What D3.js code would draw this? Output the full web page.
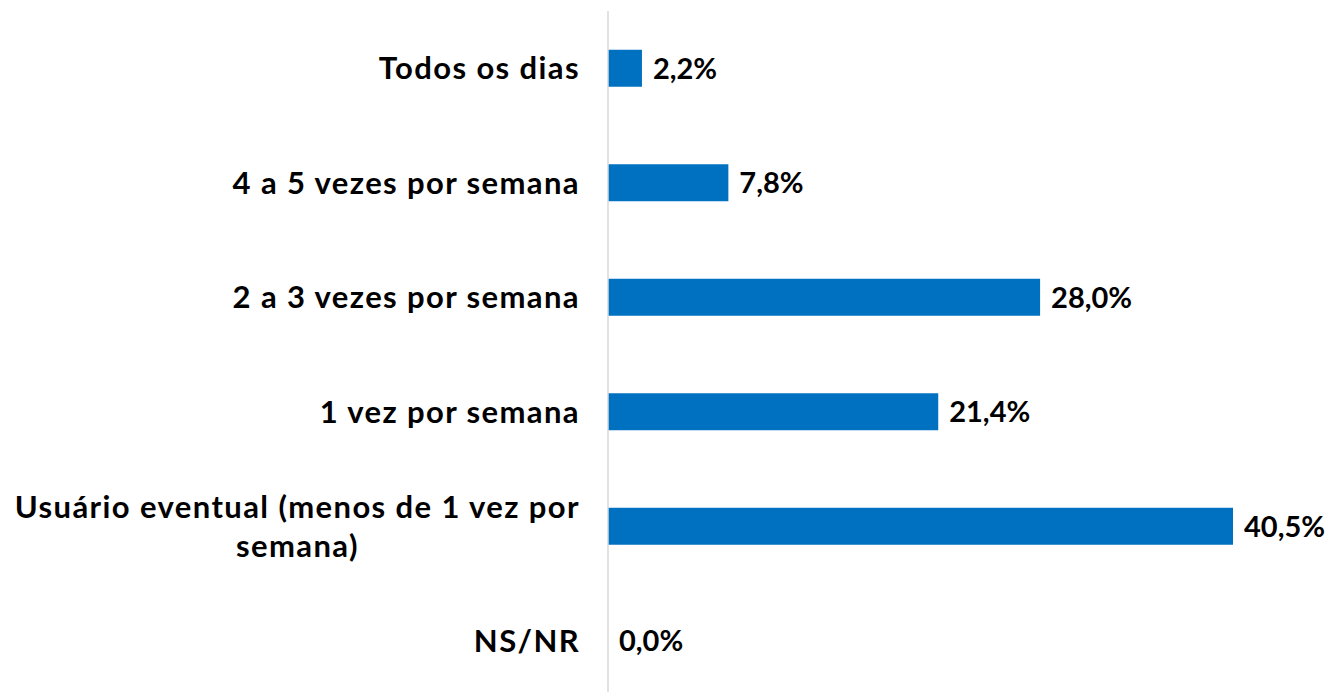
<html>
<head>
<title>frequencia de uso</title>
<script src="https://cdnjs.cloudflare.com/ajax/libs/d3/7.8.5/d3.min.js"></script>
<style>
  body { margin: 0; background: #fff; }
  text { font-family: "Lato", "Open Sans", sans-serif; font-weight: 700; fill: #000; }
</style>
</head>
<body>
<div id="vis_container"></div>
<script>

    // categories and values (percent), top to bottom
    var categories = ["Todos os dias", "4 a 5 vezes por semana", "2 a 3 vezes por semana",
                      "1 vez por semana", "Usuário eventual (menos de 1 vez por semana)", "NS/NR"];
    var values = [2.2, 7.8, 28.0, 21.4, 40.5, 0.0];
    // how the long category label is broken in two lines
    var wrapped = {"Usuário eventual (menos de 1 vez por semana)": ["Usuário eventual (menos de 1 vez por", "semana)"]};

    var width = 1327;
    var height = 692;
    var x0 = 608;

    var svg = d3.select("#vis_container")
                .append("svg")
                .attr("width", width)
                .attr("height", height);

    var x = d3.scaleLinear()
        .domain([0, 40.5])
        .range([x0, 1233]);

    var y = d3.scaleBand()
        .domain(categories)
        .range([11, 698])
        .paddingInner(0.677)
        .paddingOuter(0.3385);

    var fmt = function(v) { return v.toFixed(1).replace(".", ",") + "%"; };

    // bars
    svg.append("g").selectAll("rect")
        .data(values)
        .enter().append("rect")
        .attr("x", x(0))
        .attr("y", function(d, i) { return y(categories[i]); })
        .attr("width", function(d) { return x(d) - x(0); })
        .attr("height", y.bandwidth())
        .style("fill", "#0070c0");

    // vertical axis line
    svg.append("line")
        .attr("x1", x(0)).attr("x2", x(0))
        .attr("y1", 11).attr("y2", height)
        .style("stroke", "#d9d9d9")
        .style("stroke-width", 1.5);

    // value labels
    svg.append("g").selectAll("text")
        .data(values)
        .enter().append("text")
        .attr("x", function(d) { return x(d) + 11; })
        .attr("y", function(d, i) { return y(categories[i]) + y.bandwidth() / 2; })
        .attr("dy", "0.36em")
        .style("font-size", "29px")
        .text(fmt);

    // category labels
    var labels = svg.append("g").selectAll("g")
        .data(categories)
        .enter().append("g");

    labels.each(function(c) {
        var g = d3.select(this);
        var cy = y(c) + y.bandwidth() / 2;
        var lines = wrapped[c] || [c];
        var lh = 39;
        var t = g.selectAll("text").data(lines).enter().append("text")
            .attr("y", function(d, i) { return cy + (i - (lines.length - 1) / 2) * lh; })
            .attr("dy", "0.36em")
            .style("font-size", "31px")
            .style("letter-spacing", "1.4px")
            .text(function(d) { return d; });
        if (lines.length > 1) {
            var w = d3.max(t.nodes(), function(n) { return n.getComputedTextLength(); });
            t.attr("x", 580 - w / 2).attr("text-anchor", "middle");
        } else {
            t.attr("x", 580).attr("text-anchor", "end");
        }
    });

</script>
</body>
</html>
